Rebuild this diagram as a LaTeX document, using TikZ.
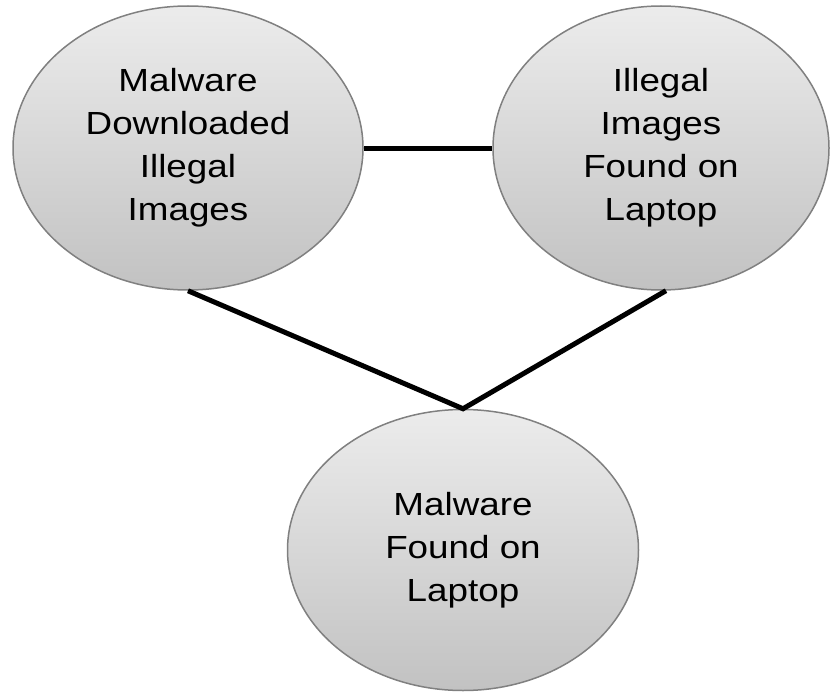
\documentclass[tikz,border=0pt]{standalone}
\usepackage{fontspec}
\setmainfont{Liberation Sans}[FakeStretch=1.15]
\usepackage{tikz}
\usetikzlibrary{shapes.geometric, positioning}

\tikzset{
  bubble/.style={ellipse,draw=gray,line width=1.5pt,top color=gray!15,bottom color=gray!48,
    inner sep=0pt,align=center,font=\fontsize{32}{43}\selectfont},
  link/.style={line width=5pt,black}
}

\begin{document}
\begin{tikzpicture}[x=1pt,y=-1pt]
\useasboundingbox (0,0) rectangle (830,693);
\node[bubble,minimum width=350pt,minimum height=284pt] (downloaded) at (188,148) {Malware\\Downloaded\\Illegal\\Images};
\node[bubble,minimum width=336pt,minimum height=284pt] (found) at (661,148) {Illegal\\Images\\Found on\\Laptop};
\node[bubble,minimum width=351pt,minimum height=281pt] (malware) at (463,550) {Malware\\Found on\\Laptop};
\draw[link] (downloaded.east) -- (found.west);
\draw[link] (downloaded.south) -- (malware.north) -- (found.-88);
\end{tikzpicture}
\end{document}
